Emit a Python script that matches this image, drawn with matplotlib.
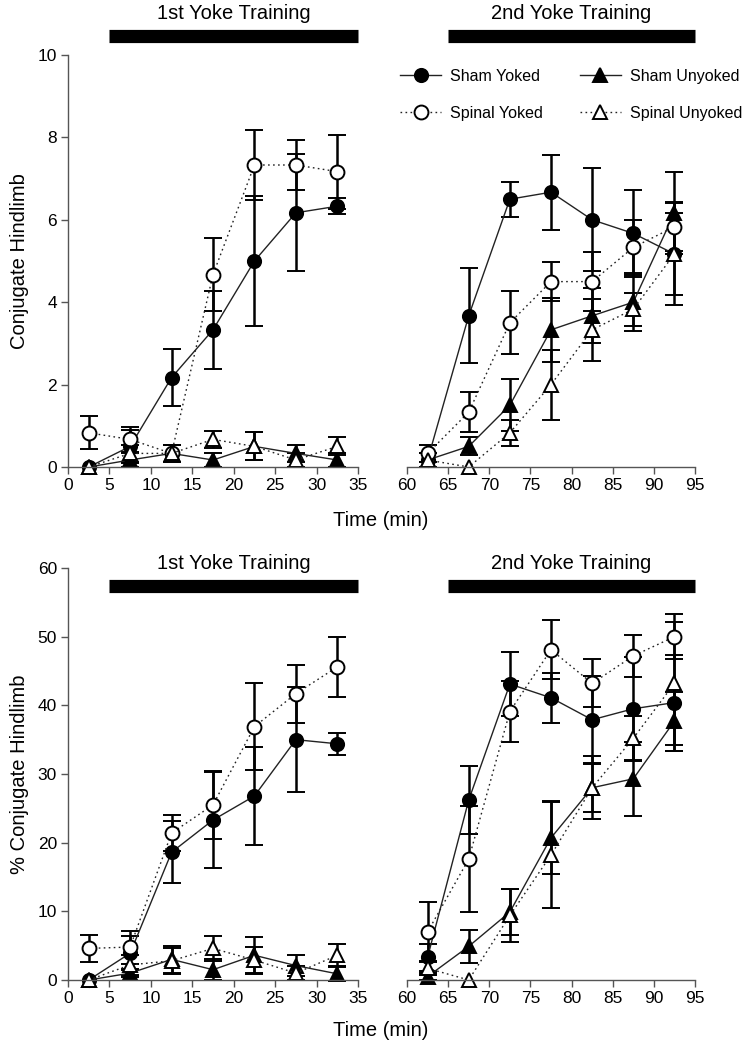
import matplotlib
matplotlib.use("Agg")
import matplotlib.pyplot as plt
import matplotlib.transforms as mtransforms
import numpy as np

plt.rcParams["font.family"] = ["Liberation Sans", "DejaVu Sans"]

# -------------------------
# Data
# -------------------------
t1 = [2.5, 7.5, 12.5, 17.5, 22.5, 27.5, 32.5]
t2 = [62.5, 67.5, 72.5, 77.5, 82.5, 87.5, 92.5]

# conjugate hindlimb (count), 1st training
sham_yoked_1 = [0, 0.5, 2.17, 3.33, 5.0, 6.17, 6.33]
sham_yoked_1_err = [0, 0.4, 0.7, 0.95, 1.58, 1.42, 0.2]
spinal_yoked_1 = [0.83, 0.67, 0.33, 4.67, 7.33, 7.33, 7.17]
spinal_yoked_1_err = [0.4, 0.31, 0.21, 0.88, 0.84, 0.61, 0.9]
sham_unyoked_1 = [0, 0.17, 0.33, 0.17, 0.5, 0.33, 0.17]
sham_unyoked_1_err = [0, 0.17, 0.21, 0.17, 0.34, 0.21, 0.17]
spinal_unyoked_1 = [0, 0.33, 0.33, 0.67, 0.5, 0.17, 0.5]
spinal_unyoked_1_err = [0, 0.21, 0.21, 0.21, 0.34, 0.17, 0.22]

# conjugate hindlimb (count), 2nd training
sham_yoked_2 = [0.17, 3.67, 6.5, 6.67, 6.0, 5.67, 5.17]
sham_yoked_2_err = [0.17, 1.15, 0.42, 0.91, 1.25, 1.05, 1.24]
spinal_yoked_2 = [0.33, 1.33, 3.5, 4.5, 4.5, 5.33, 5.83]
spinal_yoked_2_err = [0.21, 0.49, 0.76, 0.48, 0.72, 0.67, 0.59]
sham_unyoked_2 = [0.17, 0.5, 1.5, 3.33, 3.67, 4.0, 6.17]
sham_unyoked_2_err = [0.17, 0.22, 0.63, 0.77, 0.67, 0.7, 1.0]
spinal_unyoked_2 = [0.17, 0, 0.83, 2.0, 3.33, 3.83, 5.17]
spinal_unyoked_2_err = [0.17, 0, 0.31, 0.85, 0.75, 0.4, 1.0]

# % conjugate hindlimb, 1st training
sham_yoked_p1 = [0, 3.9, 18.6, 23.3, 26.8, 35.0, 34.4]
sham_yoked_p1_err = [0, 2.5, 4.5, 7.0, 7.1, 7.6, 1.6]
spinal_yoked_p1 = [4.6, 4.8, 21.4, 25.5, 36.9, 41.7, 45.6]
spinal_yoked_p1_err = [2.0, 2.4, 2.6, 4.9, 6.3, 4.2, 4.4]
sham_unyoked_p1 = [0, 1.0, 3.0, 1.5, 3.6, 2.1, 0.9]
sham_unyoked_p1_err = [0, 0.6, 2.0, 1.5, 2.7, 1.5, 1.0]
spinal_unyoked_p1 = [0, 2.2, 2.8, 4.6, 2.9, 1.0, 3.6]
spinal_unyoked_p1_err = [0, 1.4, 1.9, 1.8, 1.9, 1.0, 1.6]

# % conjugate hindlimb, 2nd training
sham_yoked_p2 = [3.3, 26.2, 43.1, 41.1, 37.9, 39.5, 40.4]
sham_yoked_p2_err = [2.0, 4.9, 4.6, 3.6, 6.4, 7.5, 7.0]
spinal_yoked_p2 = [7.0, 17.6, 39.1, 48.1, 43.2, 47.2, 50.0]
spinal_yoked_p2_err = [4.4, 7.7, 4.4, 4.3, 3.5, 3.1, 3.3]
sham_unyoked_p2 = [0.5, 4.9, 9.9, 20.7, 28.0, 29.3, 37.7]
sham_unyoked_p2_err = [0.5, 2.4, 3.4, 5.3, 4.6, 5.4, 4.3]
spinal_unyoked_p2 = [1.7, 0, 9.4, 18.2, 28.0, 35.2, 43.2]
spinal_unyoked_p2_err = [1.0, 0, 3.8, 7.7, 3.6, 3.3, 9.0]

labels = ["Sham Yoked", "Spinal Yoked", "Sham Unyoked", "Spinal Unyoked"]
ticks_left = [0, 5, 10, 15, 20, 25, 30, 35]
ticks_right = [60, 65, 70, 75, 80, 85, 90, 95]
yticks_top = [0, 2, 4, 6, 8, 10]
yticks_bottom = [0, 10, 20, 30, 40, 50, 60]

# -------------------------
# Styles
# -------------------------
styles = {
    "Sham Yoked": dict(marker="o", mfc="black", ls="-", ms=9.5),
    "Sham Unyoked": dict(marker="^", mfc="black", ls="-", ms=9.5),
    "Spinal Yoked": dict(marker="o", mfc="white", ls=(0, (1.2, 2.4)), ms=10),
    "Spinal Unyoked": dict(marker="^", mfc="white", ls=(0, (1.2, 2.4)), ms=10.5),
}
draw_order = ["Sham Yoked", "Sham Unyoked", "Spinal Yoked", "Spinal Unyoked"]

fig = plt.figure(figsize=(7.48, 10.5), dpi=100)

W, H = 748, 1050


def make_ax(x0, x1, y0, y1):
    return fig.add_axes([x0 / W, 1 - y1 / H, (x1 - x0) / W, (y1 - y0) / H])


ax_tl = make_ax(68, 358, 55, 467)
ax_tr = make_ax(407, 695, 55, 467)
ax_bl = make_ax(68, 358, 568, 980)
ax_br = make_ax(407, 695, 568, 980)


def plot_panel(ax, t, series, errs):
    handles = {}
    for name in draw_order:
        st = styles[name]
        err = np.array(errs[name], dtype=float)
        err = np.where(err > 0, err, np.nan)
        cont = ax.errorbar(
            t, series[name], yerr=err,
            marker=st["marker"], ms=st["ms"], mfc=st["mfc"], mec="black", mew=1.4,
            color="#222222", ls=st["ls"], lw=1.0,
            ecolor="black", elinewidth=1.8, capsize=6.5, capthick=1.8,
            clip_on=False,
        )
        for c in cont.lines[1]:
            c.set_clip_on(False)
        for c in cont.lines[2]:
            c.set_clip_on(False)
        handles[name] = cont.lines[0]
    return handles


def style_axes(ax, xlim, xticks, ylim, yticks, left):
    ax.set_xlim(*xlim)
    ax.set_ylim(*ylim)
    ax.set_xticks(xticks)
    ax.spines["top"].set_visible(False)
    ax.spines["right"].set_visible(False)
    for s in ["left", "bottom"]:
        ax.spines[s].set_color("#555555")
        ax.spines[s].set_linewidth(1.0)
    ax.tick_params(axis="both", direction="out", length=5, width=1.0,
                   color="#555555", labelsize=12.5, pad=3)
    if left:
        ax.set_yticks(yticks)
    else:
        ax.spines["left"].set_visible(False)
        ax.set_yticks([])
    ax.set_facecolor("none")


def training_bar(ax, x0, x1, ybar, ytext, title):
    trans = mtransforms.blended_transform_factory(ax.transData, ax.transAxes)
    ax.plot([x0, x1], [ybar, ybar], color="black", lw=9.5, solid_capstyle="butt",
            transform=trans, clip_on=False)
    ax.text((x0 + x1) / 2, ytext, title, transform=trans, ha="center", va="center",
            fontsize=14.5)


h = plot_panel(ax_tl, t1,
               {"Sham Yoked": sham_yoked_1, "Spinal Yoked": spinal_yoked_1,
                "Sham Unyoked": sham_unyoked_1, "Spinal Unyoked": spinal_unyoked_1},
               {"Sham Yoked": sham_yoked_1_err, "Spinal Yoked": spinal_yoked_1_err,
                "Sham Unyoked": sham_unyoked_1_err, "Spinal Unyoked": spinal_unyoked_1_err})
plot_panel(ax_tr, t2,
           {"Sham Yoked": sham_yoked_2, "Spinal Yoked": spinal_yoked_2,
            "Sham Unyoked": sham_unyoked_2, "Spinal Unyoked": spinal_unyoked_2},
           {"Sham Yoked": sham_yoked_2_err, "Spinal Yoked": spinal_yoked_2_err,
            "Sham Unyoked": sham_unyoked_2_err, "Spinal Unyoked": spinal_unyoked_2_err})
plot_panel(ax_bl, t1,
           {"Sham Yoked": sham_yoked_p1, "Spinal Yoked": spinal_yoked_p1,
            "Sham Unyoked": sham_unyoked_p1, "Spinal Unyoked": spinal_unyoked_p1},
           {"Sham Yoked": sham_yoked_p1_err, "Spinal Yoked": spinal_yoked_p1_err,
            "Sham Unyoked": sham_unyoked_p1_err, "Spinal Unyoked": spinal_unyoked_p1_err})
plot_panel(ax_br, t2,
           {"Sham Yoked": sham_yoked_p2, "Spinal Yoked": spinal_yoked_p2,
            "Sham Unyoked": sham_unyoked_p2, "Spinal Unyoked": spinal_unyoked_p2},
           {"Sham Yoked": sham_yoked_p2_err, "Spinal Yoked": spinal_yoked_p2_err,
            "Sham Unyoked": sham_unyoked_p2_err, "Spinal Unyoked": spinal_unyoked_p2_err})

style_axes(ax_tl, (0, 35), ticks_left, (0, 10), yticks_top, True)
style_axes(ax_tr, (60, 95), ticks_right, (0, 10), yticks_top, False)
style_axes(ax_bl, (0, 35), ticks_left, (0, 60), yticks_bottom, True)
style_axes(ax_br, (60, 95), ticks_right, (0, 60), yticks_bottom, False)

ax_tl.set_ylabel("Conjugate Hindlimb", fontsize=14.5)
ax_tl.yaxis.set_label_coords(-0.135, 0.5)
ax_bl.set_ylabel("% Conjugate Hindlimb", fontsize=14.5)
ax_bl.yaxis.set_label_coords(-0.135, 0.5)

training_bar(ax_tl, 5, 35, 1.045, 1.10, "1st Yoke Training")
training_bar(ax_tr, 65, 95, 1.045, 1.10, "2nd Yoke Training")
training_bar(ax_bl, 5, 35, 0.957, 1.011, "1st Yoke Training")
training_bar(ax_br, 65, 95, 0.957, 1.011, "2nd Yoke Training")

fig.text(381 / W, 1 - 521 / H, "Time (min)", ha="center", va="center", fontsize=14.5)
fig.text(381 / W, 1 - 1030 / H, "Time (min)", ha="center", va="center", fontsize=14.5)

ax_tr.legend(
    [h[n] for n in labels], labels,
    loc="upper left", bbox_to_anchor=(-0.025, 0.966), ncol=2,
    frameon=False, fontsize=11.5, handlelength=2.6, handletextpad=0.55,
    columnspacing=2.3, labelspacing=1.35, borderaxespad=0, borderpad=0,
)

fig.savefig("out.png", dpi=100)
